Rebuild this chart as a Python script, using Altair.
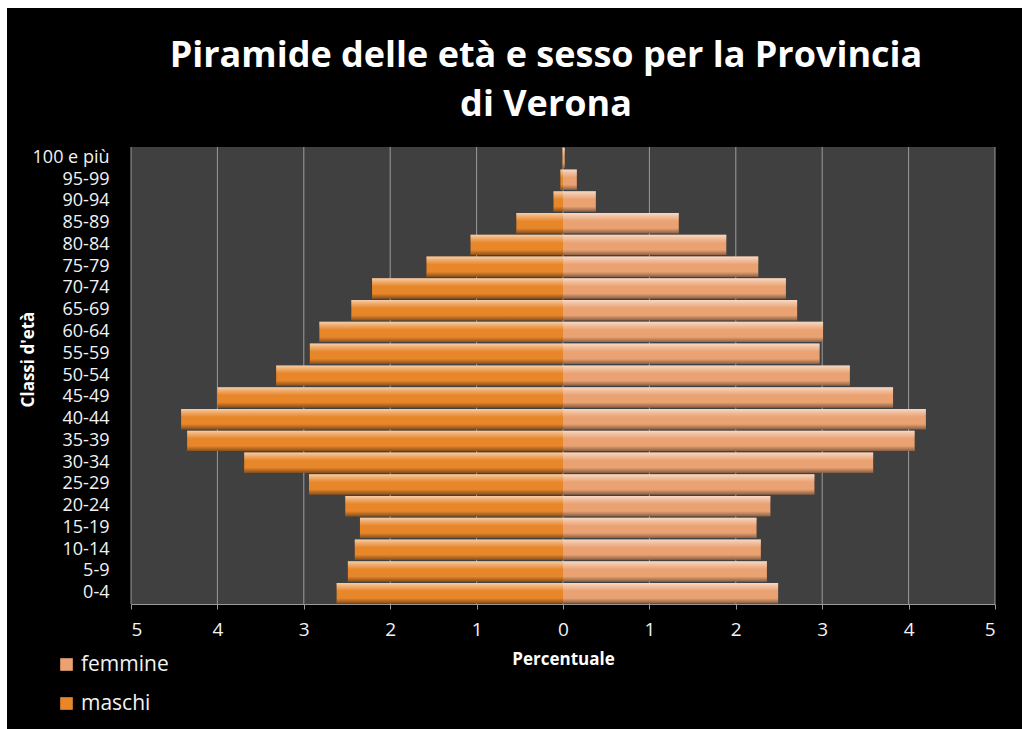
import altair as alt
import pandas as pd

# ---- data ----
classi = ["0-4", "5-9", "10-14", "15-19", "20-24", "25-29", "30-34", "35-39",
          "40-44", "45-49", "50-54", "55-59", "60-64", "65-69", "70-74", "75-79",
          "80-84", "85-89", "90-94", "95-99", "100 e più"]
maschi = [2.62, 2.49, 2.41, 2.35, 2.52, 2.94, 3.69, 4.35, 4.42, 4.00, 3.32,
          2.93, 2.82, 2.45, 2.21, 1.58, 1.07, 0.54, 0.11, 0.03, 0.005]
femmine = [2.49, 2.36, 2.29, 2.24, 2.40, 2.91, 3.59, 4.07, 4.20, 3.82, 3.32,
           2.97, 3.01, 2.71, 2.58, 2.26, 1.89, 1.34, 0.38, 0.16, 0.02]
tick_values = [-5, -4, -3, -2, -1, 0, 1, 2, 3, 4, 5]
sessi = ["femmine", "maschi"]
colori = ["#eaa272", "#e8862a"]
titolo = ["Piramide delle età e sesso per la Provincia", "di Verona"]

rows = []
for c, f in zip(classi, femmine):
    rows.append({"classe": c, "sesso": "femmine", "valore": f})
for c, m in zip(classi, maschi):
    rows.append({"classe": c, "sesso": "maschi", "valore": -m})
df = pd.DataFrame(rows)
ticks_df = pd.DataFrame({"valore": tick_values})
one = pd.DataFrame({"k": [0]})

W, H = 864, 457
FONT = "Open Sans"
LABEL = "#f2f2f2"

x_enc = alt.X(
    "valore:Q",
    scale=alt.Scale(domain=[-5, 5], nice=False),
    axis=alt.Axis(
        values=tick_values, labelExpr="abs(datum.value)", grid=False,
        domainColor="#9a9a9a", tickColor="#9a9a9a", tickSize=5,
        labelColor=LABEL, labelFont=FONT, labelFontSize=19, labelPadding=11,
        title="Percentuale", titleColor="white", titleFont=FONT,
        titleFontSize=17, titleFontWeight="bold", titlePadding=12, zindex=1,
    ),
)
y_enc = alt.Y(
    "classe:N",
    sort=list(reversed(classi)),
    scale=alt.Scale(paddingInner=0.07, paddingOuter=0.035),
    axis=alt.Axis(
        ticks=False, domain=False, labelPadding=22, labelColor=LABEL,
        labelFont=FONT, labelFontSize=18, title="Classi d'età",
        titleColor="white", titleFont=FONT, titleFontSize=17,
        titleFontWeight="bold", titleX=-103, titleY=212, titleAngle=270,
        titleAlign="center", titleBaseline="middle", zindex=1,
    ),
)

black_bg = alt.Chart(one).mark_rect(color="black").encode(
    x=alt.value(-124), x2=alt.value(891), y=alt.value(-139), y2=alt.value(582)
)
plot_bg = alt.Chart(one).mark_rect(color="#404040").encode(
    x=alt.value(0), x2=alt.value(W), y=alt.value(0), y2=alt.value(H)
)
title_txt = alt.Chart(one).mark_text(
    text=titolo, font=FONT, fontSize=36, fontWeight="bold", color="white",
    align="center", baseline="alphabetic", lineHeight=49,
).encode(x=alt.value(415), y=alt.value(-80))

grid = alt.Chart(ticks_df).mark_rule(color="#9a9a9a", strokeWidth=1).encode(x=x_enc)

bars = alt.Chart(df).mark_bar().encode(
    x=x_enc,
    y=y_enc,
    color=alt.Color(
        "sesso:N",
        scale=alt.Scale(domain=sessi, range=colori),
        legend=alt.Legend(
            title=None, orient="none", legendX=-75, legendY=507,
            direction="vertical", symbolType="square", symbolSize=160,
            symbolStrokeWidth=0, rowPadding=17, labelFont=FONT,
            labelFontSize=21, labelColor=LABEL, labelOffset=4, zindex=1,
        ),
    ),
)

shade = alt.Gradient(
    gradient="linear", x1=0, x2=0, y1=0, y2=1,
    stops=[
        alt.GradientStop(color="rgba(255,255,255,0.6)", offset=0),
        alt.GradientStop(color="rgba(255,255,255,0.35)", offset=0.15),
        alt.GradientStop(color="rgba(255,255,255,0.0)", offset=0.4),
        alt.GradientStop(color="rgba(0,0,0,0.0)", offset=0.75),
        alt.GradientStop(color="rgba(0,0,0,0.4)", offset=1),
    ],
)
overlay = alt.Chart(df).mark_bar(color=shade).encode(x=x_enc, y=y_enc)

chart = alt.layer(black_bg, plot_bg, title_txt, grid, bars, overlay).properties(
    width=W, height=H,
    autosize=alt.AutoSizeParams(type="none"),
    padding={"left": 131, "top": 147, "right": 27, "bottom": 125},
    background="white",
).configure_view(stroke=None)

chart.save("out.html", embed_options={"renderer": "svg", "actions": False})
